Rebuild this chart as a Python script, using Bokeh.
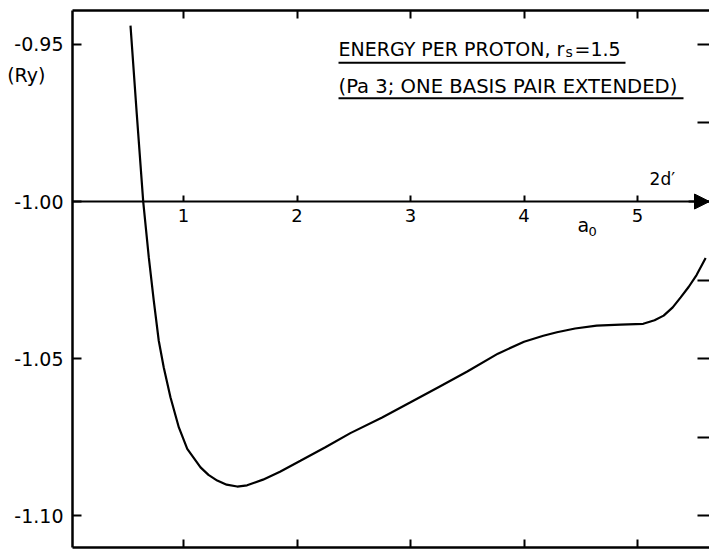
from bokeh.plotting import figure
from bokeh.models import (Range1d, LinearAxis, FixedTicker, PrintfTickFormatter,
                          CustomJSTickFormatter, Label, Arrow, NormalHead)
from bokeh.embed import file_html
from bokeh.resources import INLINE

# Energy per proton (Ry) versus 2d' (in units of a0), r_s = 1.5
d_prime = [0.533, 0.588, 0.645, 0.694, 0.738, 0.782, 0.826, 0.885, 0.959, 1.033,
           1.15, 1.22, 1.297, 1.38, 1.473, 1.56, 1.70, 1.85, 2.03, 2.25,
           2.47, 2.75, 3.0, 3.25, 3.5, 3.77, 4.0, 4.17, 4.29, 4.45,
           4.64, 4.85, 5.05, 5.15, 5.23, 5.31, 5.38, 5.45, 5.52, 5.6]
energy = [-0.944, -0.972, -1.000, -1.0177, -1.0315, -1.0443, -1.0528, -1.0623, -1.0719, -1.0787,
          -1.0846, -1.0870, -1.0888, -1.0901, -1.0907, -1.0903, -1.0885, -1.0860, -1.0825, -1.0782,
          -1.0737, -1.0687, -1.0639, -1.0590, -1.0541, -1.0484, -1.0446, -1.0427, -1.0416, -1.0404,
          -1.0395, -1.0392, -1.0389, -1.0378, -1.0363, -1.0337, -1.0305, -1.0272, -1.0234, -1.018]

x_ticks = [1, 2, 3, 4, 5]
y_ticks = [-0.95, -1.00, -1.05, -1.10]
right_ticks = [-0.95, -0.975, -1.00, -1.025, -1.05, -1.075, -1.10]
unit_text = "(Ry)"

FONT = "DejaVu Sans"
INK = "black"
X0, X1 = 0.022, 5.634
UNIT_Y = -0.9596  # where the unit sits, under the top value

p = figure(width=709, height=550, output_backend="svg", toolbar_location=None,
           x_range=Range1d(X0, X1), y_range=Range1d(-1.1101, -0.9392),
           min_border_left=72, min_border_right=0, min_border_top=10, min_border_bottom=3)
p.outline_line_color = None
p.xgrid.visible = False
p.ygrid.visible = False
p.background_fill_color = "white"
p.border_fill_color = "white"

blank = CustomJSTickFormatter(code="return ''")


def frame_axis(ax, ticks, tick_len, show_line=True):
    ax.ticker = FixedTicker(ticks=ticks)
    ax.formatter = blank
    ax.major_tick_in = tick_len
    ax.major_tick_out = 0
    ax.major_tick_line_width = 2
    ax.major_tick_line_color = INK
    ax.minor_tick_line_color = None
    ax.axis_line_width = 2.5
    ax.axis_line_color = INK if show_line else None
    ax.major_label_text_font_size = "1px"
    ax.major_label_text_color = None
    ax.major_label_standoff = 0


# frame: bottom, top, right (ticks only)
frame_axis(p.xaxis[0], x_ticks, 8)
top_axis = LinearAxis()
frame_axis(top_axis, x_ticks, 8)
p.add_layout(top_axis, "above")
right_axis = LinearAxis()
frame_axis(right_axis, right_ticks, 12, show_line=False)
p.add_layout(right_axis, "right")

# left energy axis: labelled values plus the unit; tick marks drawn as minor ticks
ya = p.yaxis[0]
ya.ticker = FixedTicker(ticks=y_ticks + [UNIT_Y], minor_ticks=y_ticks)
ya.formatter = CustomJSTickFormatter(
    args=dict(unit=unit_text + "\u00a0\u00a0\u00a0", uy=UNIT_Y),
    code="return Math.abs(tick - uy) < 1e-9 ? unit : tick.toFixed(2)")
ya.major_tick_line_color = None
ya.major_tick_in = 0
ya.major_tick_out = 0
ya.minor_tick_in = 9
ya.minor_tick_out = 0
ya.minor_tick_line_width = 2
ya.minor_tick_line_color = INK
ya.axis_line_width = 2.5
ya.axis_line_color = INK
ya.major_label_text_font = FONT
ya.major_label_text_font_size = "19px"
ya.major_label_text_color = INK
ya.major_label_standoff = 9

# 2d' axis through E = -1.00
mid = LinearAxis(fixed_location=-1.0)
mid.ticker = FixedTicker(ticks=x_ticks)
mid.formatter = PrintfTickFormatter(format="%d")
mid.major_tick_in = 6
mid.major_tick_out = 0
mid.major_tick_line_width = 2
mid.minor_tick_line_color = None
mid.axis_line_width = 2
mid.axis_line_color = INK
mid.major_label_text_font = FONT
mid.major_label_text_font_size = "18px"
mid.major_label_text_color = INK
mid.major_label_standoff = 7
p.add_layout(mid, "below")

p.add_layout(Arrow(end=NormalHead(size=15, fill_color=INK, line_color=INK),
                   x_start=5.45, y_start=-1.0, x_end=X1, y_end=-1.0,
                   line_width=2, line_color=INK))

# energy curve
p.line(d_prime, energy, line_width=2.2, line_color=INK)


def label(x, y, text, size="18px", align="left", baseline="alphabetic"):
    p.add_layout(Label(x=x, y=y, text=text, text_font=FONT, text_font_size=size,
                       text_color=INK, text_align=align, text_baseline=baseline))


label(5.106, -0.9898, "2d\u2032", size="17px", baseline="top")
label(4.471, -1.0074, "a", size="19px")
label(4.568, -1.0096, "0", size="13px")

# heading, underlined
label(2.3656, -0.9515, "ENERGY PER PROTON, r", size="19px")
label(4.3656, -0.9525, "s", size="14px")
label(4.445, -0.9515, "=1.5", size="19px")
label(2.3656, -0.9633, "(Pa 3; ONE BASIS PAIR EXTENDED)", size="19.6px")
for x0, x1, y in [(2.3656, 4.894, -0.9558), (2.3656, 5.405, -0.9671)]:
    p.add_layout(Arrow(end=None, x_start=x0, y_start=y, x_end=x1, y_end=y,
                       line_width=2, line_color=INK))

open("out.html", "w").write(file_html(p, INLINE))
